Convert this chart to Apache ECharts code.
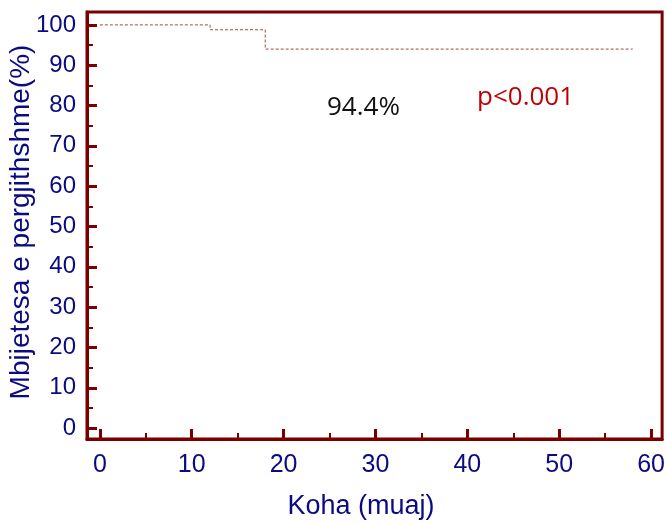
<!DOCTYPE html>
<html><head><meta charset="utf-8">
<script src="https://cdn.jsdelivr.net/npm/echarts@6/dist/echarts.min.js"></script>
<style>html,body{margin:0;padding:0;background:#fff}#c{width:668px;height:523px}</style>
</head><body><div id="c"></div>
<script>
const timeMonths = [0, 12, 18, 58];
const survivalPct = [100, 98.8, 94.0, 94.0];
const xTickLabels = [0, 10, 20, 30, 40, 50, 60];
const xMinorTicks = [5, 15, 25, 35, 45, 55];
const yTickLabels = [0, 10, 20, 30, 40, 50, 60, 70, 80, 90, 100];
const yMinorTicks = [5, 15, 25, 35, 45, 55, 65, 75, 85, 95];
const seriesName = 'Nilotinib';
const annotSurvival = '94.4%';
const annotP = 'p<0.001';

const AX = '#7a0000', NAVY = '#0a0a82', FONT = '"Liberation Sans", Arial, sans-serif';
const chart = echarts.init(document.getElementById('c'), null, {renderer: 'canvas'});
const grid = {left: 87, top: 12, right: 5, bottom: 84, show: true, borderColor: AX, borderWidth: 3, containLabel: false};
const xr = {min: -1.4, max: 61.2}, yr = {min: -2.7, max: 103.2};
chart.setOption({
  animation: false,
  grid: grid,
  xAxis: [
    {type: 'value', min: xr.min, max: xr.max, splitLine: {show: false},
     axisLine: {show: true, onZero: false, lineStyle: {color: AX, width: 3}},
     axisTick: {show: true, inside: true, length: 10, lineStyle: {color: AX, width: 3}, customValues: xTickLabels},
     axisLabel: {customValues: xTickLabels, color: NAVY, fontSize: 25, fontFamily: FONT, margin: 14}},
    {type: 'value', min: xr.min, max: xr.max, position: 'bottom', splitLine: {show: false},
     axisLine: {show: false, onZero: false},
     axisTick: {show: true, inside: true, length: 6, lineStyle: {color: AX, width: 2}, customValues: xMinorTicks},
     axisLabel: {show: false}}
  ],
  yAxis: [
    {type: 'value', min: yr.min, max: yr.max, splitLine: {show: false},
     axisLine: {show: true, onZero: false, lineStyle: {color: AX, width: 3}},
     axisTick: {show: true, inside: true, length: 10, lineStyle: {color: AX, width: 3}, customValues: yTickLabels},
     axisLabel: {customValues: yTickLabels, color: NAVY, fontSize: 24, fontFamily: FONT, margin: 11}},
    {type: 'value', min: yr.min, max: yr.max, position: 'left', splitLine: {show: false},
     axisLine: {show: false, onZero: false},
     axisTick: {show: true, inside: true, length: 6, lineStyle: {color: AX, width: 2}, customValues: yMinorTicks},
     axisLabel: {show: false}}
  ],
  legend: {
    left: 167, top: 362, itemWidth: 48, itemHeight: 14, itemGap: 10,
    icon: 'path://M0,0L1,0',
    textStyle: {color: NAVY, fontSize: 27, fontFamily: FONT},
    data: [seriesName]
  },
  series: [{
    name: seriesName, type: 'line', step: 'end', showSymbol: false, symbol: 'none',
    xAxisIndex: 0, yAxisIndex: 0,
    lineStyle: {color: '#a04848', width: 1, type: [3, 2]},
    itemStyle: {color: '#a04848'},
    data: timeMonths.map((t, i) => [t, survivalPct[i]])
  }],
  graphic: [
    {type: 'text', x: 327, y: 108, style: {text: annotSurvival, fill: '#111', font: '26px "Open Sans", sans-serif', verticalAlign: 'middle'}},
    {type: 'text', x: 477, y: 98, style: {text: annotP, fill: '#c00000', font: '26px "Open Sans", sans-serif', verticalAlign: 'middle'}},
    {type: 'text', x: 361, y: 507, style: {text: 'Koha (muaj)', fill: NAVY, font: '27px ' + FONT, align: 'center', verticalAlign: 'middle'}},
    {type: 'text', x: 21, y: 222, rotation: Math.PI / 2, style: {text: 'Mbijetesa e pergjithshme(%)', fill: NAVY, font: '28px ' + FONT, align: 'center', verticalAlign: 'middle'}}
  ]
});
</script></body></html>
